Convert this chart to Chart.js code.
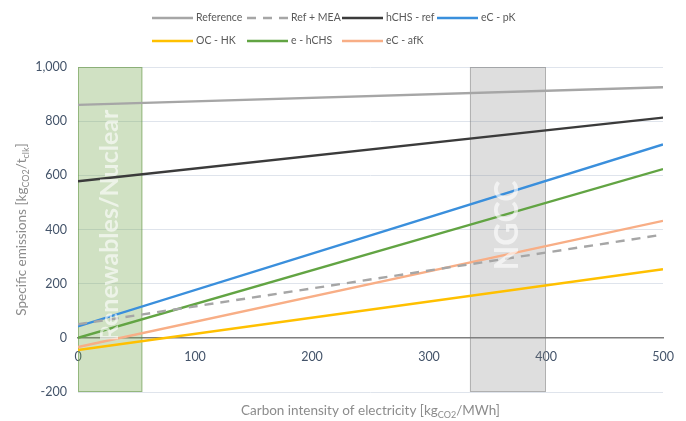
<!DOCTYPE html>
<html>
<head>
<meta charset="utf-8">
<script src="https://cdn.jsdelivr.net/npm/chart.js@4/dist/chart.umd.min.js"></script>
<style>
  html, body { margin: 0; padding: 0; background: #ffffff; }
  #wrap { width: 686px; height: 421px; }
</style>
</head>
<body>
<div id="wrap"><canvas id="c" width="686" height="421"></canvas></div>
<script>
// Carbon intensity of electricity (x) at which each scenario is evaluated
const intensity = [0, 500];

// Specific emissions per scenario, kgCO2 per t clinker
const reference = [860, 925];
const refMea    = [50, 381];
const hchsRef   = [578, 813];
const ecPk      = [42, 714];
const ocHk      = [-45, 253];
const eHchs     = [0, 623];
const ecAfk     = [-34, 432];

const seriesNames = ['Reference', 'Ref + MEA', 'hCHS - ref', 'eC - pK', 'OC - HK', 'e - hCHS', 'eC - afK'];

// Axis ticks
const xTicks = [0, 100, 200, 300, 400, 500];
const yTicks = [-200, 0, 200, 400, 600, 800, 1000];

// Shaded electricity-source ranges (kgCO2/MWh)
const bandLabels = ['Renewables/Nuclear', 'NGCC'];
const bandFrom   = [0, 335];
const bandTo     = [55, 400];

// ---- styling ----
const FONT = 'Lato, "Open Sans", "Liberation Sans", sans-serif';
const seriesStyle = [
  { color: '#a6a6a6', dash: [] },
  { color: '#a6a6a6', dash: [9, 7] },
  { color: '#3b3b3b', dash: [] },
  { color: '#3a8fdc', dash: [] },
  { color: '#ffc000', dash: [] },
  { color: '#62a443', dash: [] },
  { color: '#f8ae86', dash: [] }
];
const bandStyle = [
  { fill: 'rgba(112,165,72,0.33)', stroke: 'rgba(100,150,70,0.55)', font: 'bold 25px ' + FONT },
  { fill: 'rgba(128,128,128,0.26)', stroke: 'rgba(120,120,120,0.45)', font: 'bold 32px ' + FONT }
];

const seriesValues = [reference, refMea, hchsRef, ecPk, ocHk, eHchs, ecAfk];

const datasets = seriesNames.map((name, i) => ({
  label: name,
  data: intensity.map((x, k) => ({ x: x, y: seriesValues[i][k] })),
  borderColor: seriesStyle[i].color,
  backgroundColor: seriesStyle[i].color,
  borderDash: seriesStyle[i].dash,
  borderWidth: 2.4,
  pointRadius: 0,
  fill: false,
  tension: 0
}));

// Shaded ranges below the lines, their captions on top
const bandsPlugin = {
  id: 'bands',
  beforeDatasetsDraw(chart) {
    const { ctx, chartArea, scales: { x } } = chart;
    ctx.save();
    bandLabels.forEach((_, i) => {
      const x1 = x.getPixelForValue(bandFrom[i]);
      const x2 = x.getPixelForValue(bandTo[i]);
      ctx.fillStyle = bandStyle[i].fill;
      ctx.fillRect(x1, chartArea.top, x2 - x1, chartArea.bottom - chartArea.top);
      ctx.strokeStyle = bandStyle[i].stroke;
      ctx.lineWidth = 1;
      ctx.strokeRect(x1 + 0.5, chartArea.top + 0.5, x2 - x1 - 1, chartArea.bottom - chartArea.top - 1);
    });
    ctx.restore();
  },
  afterDatasetsDraw(chart) {
    const { ctx, chartArea, scales: { x } } = chart;
    ctx.save();
    bandLabels.forEach((label, i) => {
      const cx = (x.getPixelForValue(bandFrom[i]) + x.getPixelForValue(bandTo[i])) / 2;
      const cy = (chartArea.top + chartArea.bottom) / 2 - 4;
      ctx.save();
      ctx.translate(cx, cy);
      ctx.rotate(-Math.PI / 2);
      ctx.font = bandStyle[i].font;
      ctx.fillStyle = 'rgba(255,255,255,0.62)';
      ctx.textAlign = 'center';
      ctx.textBaseline = 'middle';
      ctx.fillText(label, 0, 0);
      ctx.restore();
    });
    ctx.restore();
  }
};

// Text with subscript runs: parts = [[text, isSub], ...]
function drawRich(ctx, parts, cx, cy, size, color) {
  const subSize = Math.round(size * 0.7);
  let total = 0;
  parts.forEach(([t, sub]) => {
    ctx.font = (sub ? subSize : size) + 'px ' + FONT;
    total += ctx.measureText(t).width;
  });
  let xpos = cx - total / 2;
  ctx.fillStyle = color;
  ctx.textAlign = 'left';
  ctx.textBaseline = 'middle';
  parts.forEach(([t, sub]) => {
    ctx.font = (sub ? subSize : size) + 'px ' + FONT;
    ctx.fillText(t, xpos, cy + (sub ? size * 0.3 : 0));
    xpos += ctx.measureText(t).width;
  });
}

const titlesPlugin = {
  id: 'axisTitles',
  afterDraw(chart) {
    const { ctx, chartArea } = chart;
    ctx.save();
    drawRich(ctx, [['Carbon intensity of electricity [kg', false], ['CO2', true], ['/MWh]', false]],
      (chartArea.left + chartArea.right) / 2, 411, 13.5, '#8c8c8c');
    ctx.translate(22, (chartArea.top + chartArea.bottom) / 2);
    ctx.rotate(-Math.PI / 2);
    drawRich(ctx, [['Specific emissions [kg', false], ['CO2', true], ['/t', false], ['clk', true], [']', false]],
      0, 0, 13.5, '#8c8c8c');
    ctx.restore();
  }
};

// Legend laid out in fixed columns, two rows
const legendPlugin = {
  id: 'gridLegend',
  afterDraw(chart) {
    const { ctx } = chart;
    ctx.save();
    chart.data.datasets.forEach((ds, i) => {
      const col = i % 4, row = Math.floor(i / 4);
      const x = 152 + col * 95;
      const y = 18 + row * 23;
      ctx.beginPath();
      ctx.setLineDash(ds.borderDash || []);
      ctx.strokeStyle = ds.borderColor;
      ctx.lineWidth = 2.4;
      ctx.moveTo(x, y);
      ctx.lineTo(x + 41, y);
      ctx.stroke();
      ctx.setLineDash([]);
      ctx.font = '10.5px ' + FONT;
      ctx.fillStyle = '#595959';
      ctx.textAlign = 'left';
      ctx.textBaseline = 'middle';
      ctx.fillText(ds.label, x + 44, y);
    });
    ctx.restore();
  }
};

new Chart(document.getElementById('c'), {
  type: 'line',
  data: { datasets: datasets },
  plugins: [bandsPlugin, titlesPlugin, legendPlugin],
  options: {
    responsive: false,
    animation: false,
    devicePixelRatio: 1,
    layout: { padding: { left: 0, right: 23, top: 67, bottom: 29 } },
    plugins: { legend: { display: false }, tooltip: { enabled: false } },
    scales: {
      x: {
        type: 'linear',
        position: { y: 0 },
        min: xTicks[0],
        max: xTicks[xTicks.length - 1],
        afterBuildTicks(s) { s.ticks = xTicks.map(v => ({ value: v })); },
        ticks: { padding: 12, maxRotation: 0, color: '#44546a', font: { family: FONT, size: 12.5 } },
        grid: { display: false, drawTicks: false },
        border: { display: true, color: '#7f7f7f', width: 1.6 }
      },
      y: {
        type: 'linear',
        min: yTicks[0],
        max: yTicks[yTicks.length - 1],
        afterBuildTicks(s) { s.ticks = yTicks.map(v => ({ value: v })); },
        afterFit(s) { s.width = 78; },
        ticks: { padding: 11, color: '#44546a', font: { family: FONT, size: 12.5 } },
        grid: { color: '#dfe4ec', lineWidth: 1, drawTicks: false },
        border: { display: false }
      }
    }
  }
});
</script>
</body>
</html>
